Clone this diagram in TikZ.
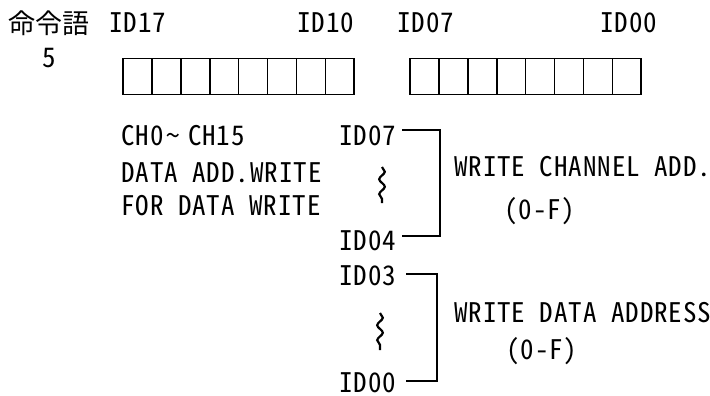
\documentclass[tikz,border=0pt]{standalone}
\usepackage{fontspec}
\setmainfont[RawFeature=+hwid, LetterSpace=3.5]{Noto Sans CJK JP}
\newfontfamily\jpfont{Noto Sans CJK JP}
\usetikzlibrary{decorations.pathmorphing}

\tikzset{
  lbl/.style={inner sep=0pt, anchor=base west, font=\fontsize{27}{30}\selectfont},
  bitcell/.style={draw, line width=1.6pt, minimum width=28.9pt, minimum height=36pt, inner sep=0pt},
  brk/.style={line width=1.6pt},
  wave/.style={line width=2.2pt, decorate, decoration={snake, amplitude=2.8pt, segment length=15pt}}
}

\begin{document}
\begin{tikzpicture}[x=1pt, y=-1pt]
  \useasboundingbox (0,0) rectangle (710,396);
  % command word number
  \node[lbl, font=\jpfont\fontsize{27}{30}\selectfont] (cmd) at (8,34) {命令語};
  \node[lbl] (num) at (42,68) {5};
  % bit labels
  \node[lbl] (b17) at (109,33) {ID17};
  \node[lbl] (b10) at (297,33) {ID10};
  \node[lbl] (b07) at (397,33) {ID07};
  \node[lbl] (b00) at (600,33) {ID00};
  % high and low byte cells
  \foreach \i in {0,...,7} {
    \node[bitcell] (hi\i) at (137.45+\i*28.9, 76.5) {};
    \node[bitcell] (lo\i) at (424.45+\i*28.9, 76.5) {};
  }
  % description
  \node[lbl] (ch) at (121,145) {CH0\hspace{3pt}\textasciitilde\hspace{8pt}CH15};
  \node[lbl] (dw) at (121,182) {DATA ADD.WRITE};
  \node[lbl] (fw) at (121,215) {FOR DATA WRITE};
  % upper nibble
  \node[lbl] (u7) at (339,145) {ID07};
  \node[lbl] (u4) at (339,250) {ID04};
  \coordinate (w1a) at (382,167);
  \coordinate (w1b) at (382,203);
  \draw[wave] (w1a) -- (w1b);
  \draw[brk] ([xshift=6pt,yshift=5pt]u7.east) -- ++(38,0) |- ([xshift=6pt,yshift=4pt]u4.east);
  \node[lbl] (wc) at (454,176) {WRITE CHANNEL ADD.};
  \node[lbl] (wcr) at (504,219) {(0-F)};
  % lower nibble
  \node[lbl] (l3) at (339,285) {ID03};
  \node[lbl] (l0) at (339,392) {ID00};
  \coordinate (w2a) at (380,313);
  \coordinate (w2b) at (380,350);
  \draw[wave] (w2a) -- (w2b);
  \draw[brk] ([xshift=10pt,yshift=1pt]l3.east) -- ++(31,0) |- ([xshift=10pt,yshift=1pt]l0.east);
  \node[lbl] (wd) at (454,322) {WRITE DATA ADDRESS};
  \node[lbl] (wdr) at (506,359) {(0-F)};
\end{tikzpicture}
\end{document}
